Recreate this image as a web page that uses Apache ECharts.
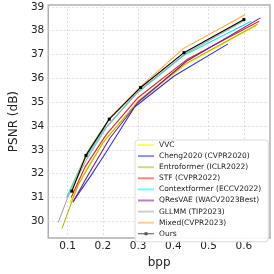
<!DOCTYPE html>
<html>
<head>
<meta charset="utf-8">
<script src="https://cdn.jsdelivr.net/npm/echarts@6/dist/echarts.min.js"></script>
<style>html,body{margin:0;padding:0;background:#fff;}#c{width:274px;height:274px;}</style>
</head>
<body>
<div id="c"></div>
<script>
const seriesNames = ["VVC","Cheng2020 (CVPR2020)","Entroformer (ICLR2022)","STF (CVPR2022)","Contextformer (ECCV2022)","QResVAE (WACV2023Best)","GLLMM (TIP2023)","Mixed(CVPR2023)","Ours"];
const seriesColors = ["#f5f500","#2f2ff5","#b8b800","#f02020","#00f0f0","#7a1a8a","#a8a8a8","#ffaa33","#000000"];
const xTicks = [0.1,0.2,0.3,0.4,0.5,0.6];
const yTicks = [30,31,32,33,34,35,36,37,38,39];
const vvc = [[0.105,30.75],[0.15,32.1],[0.21,33.5],[0.30,35.0],[0.437,36.6],[0.635,38.22]];
const cheng2020 = [[0.117,30.87],[0.165,31.9],[0.209,32.9],[0.29,34.8],[0.402,36.1],[0.555,37.45]];
const entroformer = [[0.084,29.71],[0.13,31.55],[0.20,33.3],[0.30,35.05],[0.437,36.64],[0.639,38.27]];
const stf = [[0.11,31.0],[0.15,32.3],[0.21,33.65],[0.30,35.2],[0.437,36.78],[0.643,38.4]];
const contextformer = [[0.097,31.0],[0.14,32.4],[0.20,33.8],[0.29,35.3],[0.43,36.97],[0.621,38.4]];
const qresvae = [[0.115,30.8],[0.16,32.0],[0.22,33.5],[0.30,35.0],[0.437,36.72],[0.647,38.54]];
const gllmm = [[0.073,29.95],[0.10,31.0],[0.15,32.5],[0.21,33.95],[0.30,35.45],[0.43,37.0],[0.60,38.42]];
const mixed = [[0.11,31.3],[0.155,32.9],[0.22,34.35],[0.31,35.7],[0.428,37.25],[0.603,38.67]];
const ours = [[0.112,31.27],[0.152,32.77],[0.218,34.29],[0.307,35.62],[0.43,37.08],[0.60,38.47]];
const allData = [vvc,cheng2020,entroformer,stf,contextformer,qresvae,gllmm,mixed,ours];
const xMin = 0.045, xMax = 0.674, yMin = 29.3, yMax = 39.08;

const chart = echarts.init(document.getElementById('c'), null, {renderer:'canvas'});
const font = 'DejaVu Sans';
const series = allData.map((d,i)=>{
  const isOurs = i === allData.length-1;
  return {
    name: seriesNames[i], type:'line', data:d,
    symbol: isOurs ? 'rect' : 'none', symbolSize: 3, showSymbol: isOurs,
    lineStyle:{color:seriesColors[i], width:1.1},
    itemStyle:{color:seriesColors[i]},
    emphasis:{disabled:true}, animation:false, silent:true
  };
});
const legendData = seriesNames.map((n,i)=> i === seriesNames.length-1
  ? {name:n, icon:'path://M0,3.5 L6.5,3.5 L6.5,2.5 L9.5,2.5 L9.5,3.5 L16,3.5 L16,4.5 L9.5,4.5 L9.5,5.5 L6.5,5.5 L6.5,4.5 L0,4.5 Z', itemStyle:{color:'#555'}}
  : {name:n, icon:'path://M0,3 L16,3 L16,5 L0,5 Z', itemStyle:{color:seriesColors[i], opacity:0.55}});
chart.setOption({
  animation:false,
  grid:{left:31, right:4, top:5, bottom:29, show:true, borderColor:'#b0b0b0', borderWidth:1.5, containLabel:false},
  xAxis:{type:'value', min:xMin, max:xMax,
    name:'bpp', nameLocation:'middle', nameGap:11, nameTextStyle:{fontFamily:font, fontSize:12, color:'#222'},
    axisLine:{show:false}, axisTick:{show:false, customValues:xTicks},
    axisLabel:{fontFamily:font, fontSize:10.5, color:'#222', margin:3, customValues:xTicks,
      formatter:v=>v.toFixed(1)},
    splitLine:{show:true, lineStyle:{color:'#d8d8d8', type:[2,2], width:0.8}}},
  yAxis:{type:'value', min:yMin, max:yMax,
    name:'PSNR (dB)', nameLocation:'middle', nameGap:21, nameTextStyle:{fontFamily:font, fontSize:12, color:'#222'},
    axisLine:{show:false}, axisTick:{show:false, customValues:yTicks},
    axisLabel:{fontFamily:font, fontSize:10.5, color:'#222', margin:4, customValues:yTicks,
      formatter:v=>String(v)},
    splitLine:{show:true, lineStyle:{color:'#d8d8d8', type:[2,2], width:0.8}}},
  legend:{orient:'vertical', left:135, top:140, padding:[1,7,4,3],
    itemWidth:16, itemHeight:8, itemGap:3.1,
    backgroundColor:'rgba(255,255,255,0.9)', borderColor:'#dcdcdc', borderWidth:1, borderRadius:3,
    textStyle:{fontFamily:font, fontSize:7.5, color:'#222'},
    data:legendData, selectedMode:false},
  series:series
});
</script>
</body>
</html>
